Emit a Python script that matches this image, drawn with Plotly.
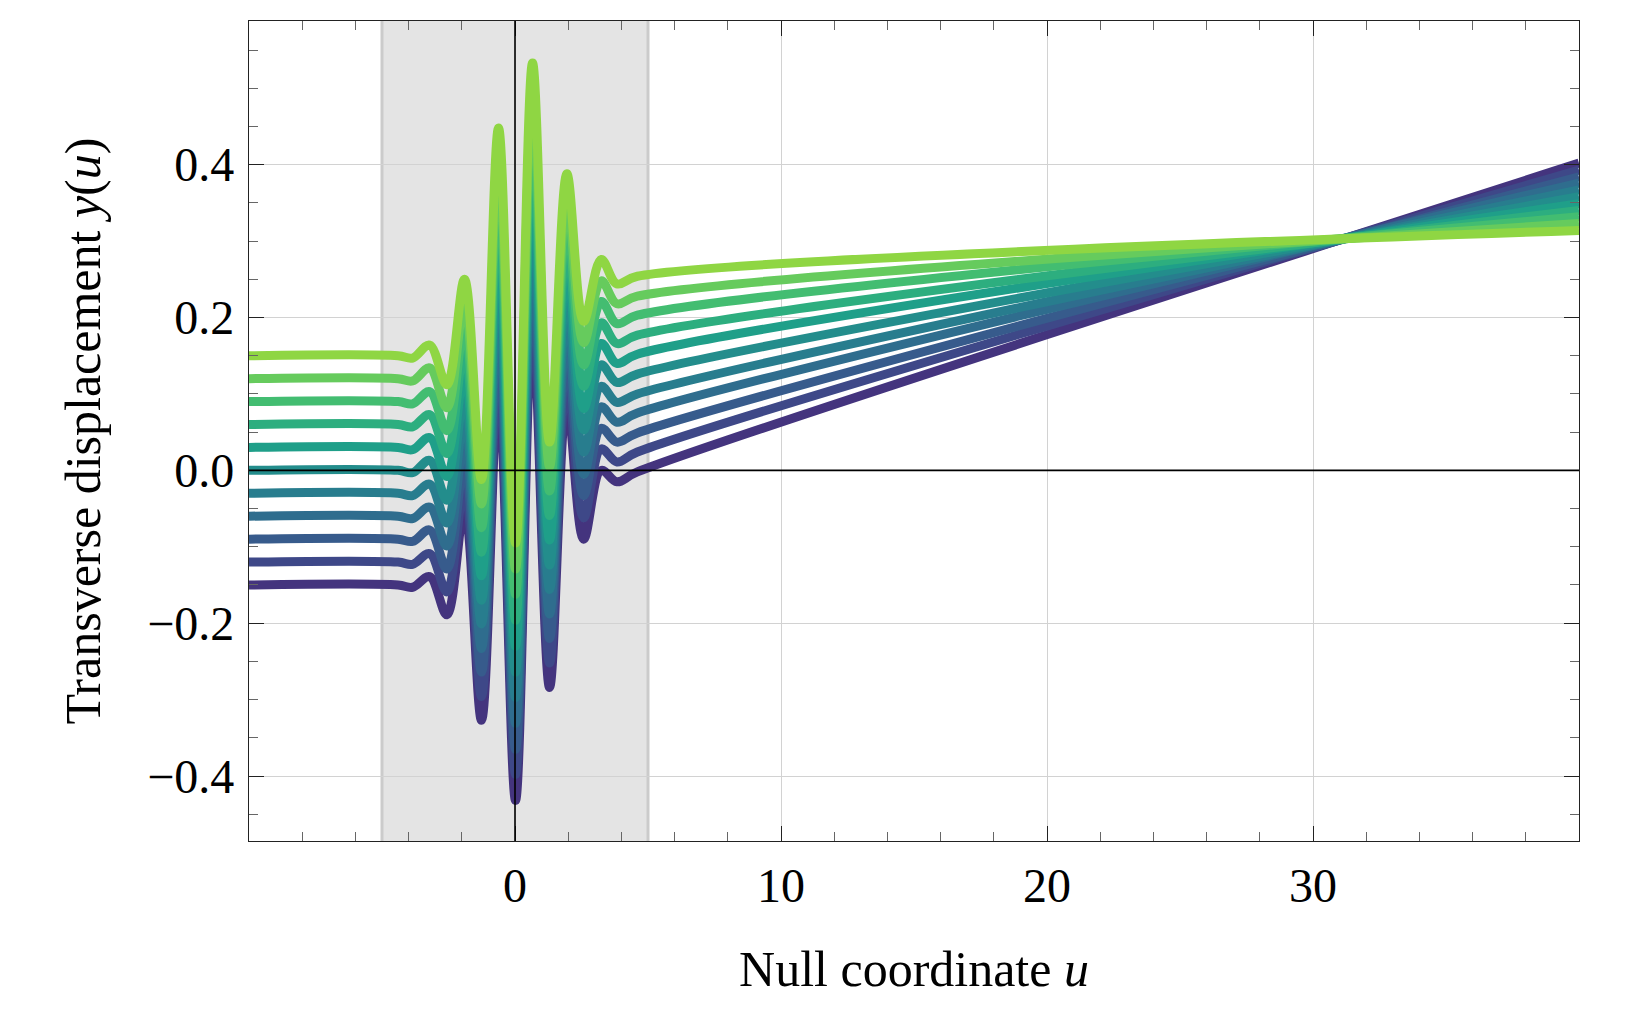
import plotly.graph_objects as go
import plotly.colors as pc

# null coordinate nodes where the curves were read (extrema of the pulse + ends)
u_nodes = [-10, -4.4, -3.85, -3.21, -2.56, -1.9, -1.26, -0.62, 0.02, 0.66,
           1.3, 1.95, 2.58, 3.24, 3.83, 4.6, 40]

# one curve per starting displacement y0 (bottom -> top)
y_m015 = [-0.15, -0.15, -0.153, -0.139, -0.189, -0.05, -0.327, 0.110, -0.432, 0.190, -0.284, 0.090, -0.090, 0.000, -0.015, -0.002, 0.402]
y_m012 = [-0.12, -0.12, -0.123, -0.109, -0.159, -0.02, -0.296, 0.144, -0.398, 0.224, -0.252, 0.120, -0.062, 0.028, 0.011, 0.024, 0.393]
y_m009 = [-0.09, -0.09, -0.093, -0.078, -0.129, 0.01, -0.264, 0.178, -0.365, 0.259, -0.220, 0.150, -0.033, 0.055, 0.037, 0.049, 0.384]
y_m006 = [-0.06, -0.06, -0.063, -0.048, -0.099, 0.04, -0.233, 0.211, -0.331, 0.293, -0.188, 0.179, -0.005, 0.083, 0.063, 0.075, 0.376]
y_m003 = [-0.03, -0.03, -0.033, -0.018, -0.069, 0.07, -0.201, 0.245, -0.297, 0.327, -0.156, 0.209, 0.024, 0.110, 0.089, 0.100, 0.367]
y_p000 = [0.00, 0.00, -0.003, 0.013, -0.039, 0.10, -0.170, 0.279, -0.264, 0.362, -0.124, 0.239, 0.053, 0.138, 0.115, 0.126, 0.358]
y_p003 = [0.03, 0.03, 0.027, 0.043, -0.008, 0.13, -0.138, 0.313, -0.230, 0.396, -0.091, 0.269, 0.081, 0.166, 0.140, 0.152, 0.349]
y_p006 = [0.06, 0.06, 0.057, 0.073, 0.022, 0.16, -0.107, 0.347, -0.196, 0.430, -0.059, 0.299, 0.110, 0.193, 0.166, 0.177, 0.340]
y_p009 = [0.09, 0.09, 0.087, 0.103, 0.052, 0.19, -0.075, 0.380, -0.162, 0.464, -0.027, 0.328, 0.138, 0.221, 0.192, 0.203, 0.332]
y_p012 = [0.12, 0.12, 0.117, 0.134, 0.082, 0.22, -0.044, 0.414, -0.129, 0.499, 0.005, 0.358, 0.167, 0.248, 0.218, 0.228, 0.323]
y_p015 = [0.15, 0.15, 0.147, 0.164, 0.112, 0.25, -0.012, 0.448, -0.095, 0.533, 0.037, 0.388, 0.195, 0.276, 0.244, 0.254, 0.314]

curves = [y_m015, y_m012, y_m009, y_m006, y_m003, y_p000,
          y_p003, y_p006, y_p009, y_p012, y_p015]

pulse_start, pulse_end = -5, 5

x_ticks = [0, 10, 20, 30]
y_ticks = [-0.4, -0.2, 0.0, 0.2, 0.4]

colors = pc.sample_colorscale("Viridis", [0.15 + 0.068 * i for i in range(len(curves))])

FONT = "Liberation Serif"

fig = go.Figure()
for ys, col in zip(curves, colors):
    fig.add_trace(go.Scatter(
        x=u_nodes, y=ys, mode="lines",
        line=dict(color=col, width=9, shape="spline", smoothing=1),
        showlegend=False, hoverinfo="skip",
    ))

# shaded pulse region
fig.add_shape(type="rect", x0=pulse_start, x1=pulse_end, y0=0, y1=1,
              xref="x", yref="paper", fillcolor="rgb(228,228,228)",
              line_width=0, layer="below")
for xe in (pulse_start, pulse_end):
    fig.add_shape(type="line", x0=xe, x1=xe, y0=0, y1=1, xref="x", yref="paper",
                  line=dict(color="rgb(203,203,203)", width=3), layer="below")

# axes through origin drawn on top
fig.add_shape(type="line", x0=0, x1=0, y0=0, y1=1, xref="x", yref="paper",
              line=dict(color="black", width=1.6), layer="above")
fig.add_shape(type="line", x0=0, x1=1, y0=0, y1=0, xref="paper", yref="y",
              line=dict(color="black", width=1.6), layer="above")

fig.update_xaxes(
    range=[-10, 40], tickmode="array", tickvals=x_ticks,
    ticks="inside", ticklen=15, tickwidth=1.2, tickcolor="#222",
    minor=dict(dtick=2, tick0=0, ticks="inside", ticklen=9, tickcolor="#666", tickwidth=1.2),
    showgrid=True, gridcolor="rgb(210,210,210)", gridwidth=1, zeroline=False,
    showline=True, linecolor="#222", linewidth=1.2, mirror="ticks",
    tickfont=dict(family=FONT, size=48, color="black"), ticklabelstandoff=2,
    title=dict(text="Null coordinate <i>u</i>", font=dict(family=FONT, size=50, color="black"),
               standoff=40),
)
fig.update_yaxes(
    range=[-0.485, 0.588], tickmode="array", tickvals=y_ticks, tickformat=".1f",
    ticks="inside", ticklen=15, tickwidth=1.2, tickcolor="#222",
    minor=dict(dtick=0.05, tick0=0, ticks="inside", ticklen=9, tickcolor="#666", tickwidth=1.2),
    showgrid=True, gridcolor="rgb(210,210,210)", gridwidth=1, zeroline=False,
    showline=True, linecolor="#222", linewidth=1.2, mirror="ticks",
    tickfont=dict(family=FONT, size=48, color="black"), ticklabelstandoff=4,
    title=dict(text="Transverse displacement <i>y</i>(<i>u</i>)",
               font=dict(family=FONT, size=50, color="black"), standoff=30),
)

# the page body adds an 8 px offset, so the figure is sized to fit inside it
fig.update_layout(
    width=1628, height=1012,
    margin=dict(l=241, r=57, t=13, b=179, autoexpand=False),
    plot_bgcolor="white", paper_bgcolor="white",
)

fig.write_html("out.html")
